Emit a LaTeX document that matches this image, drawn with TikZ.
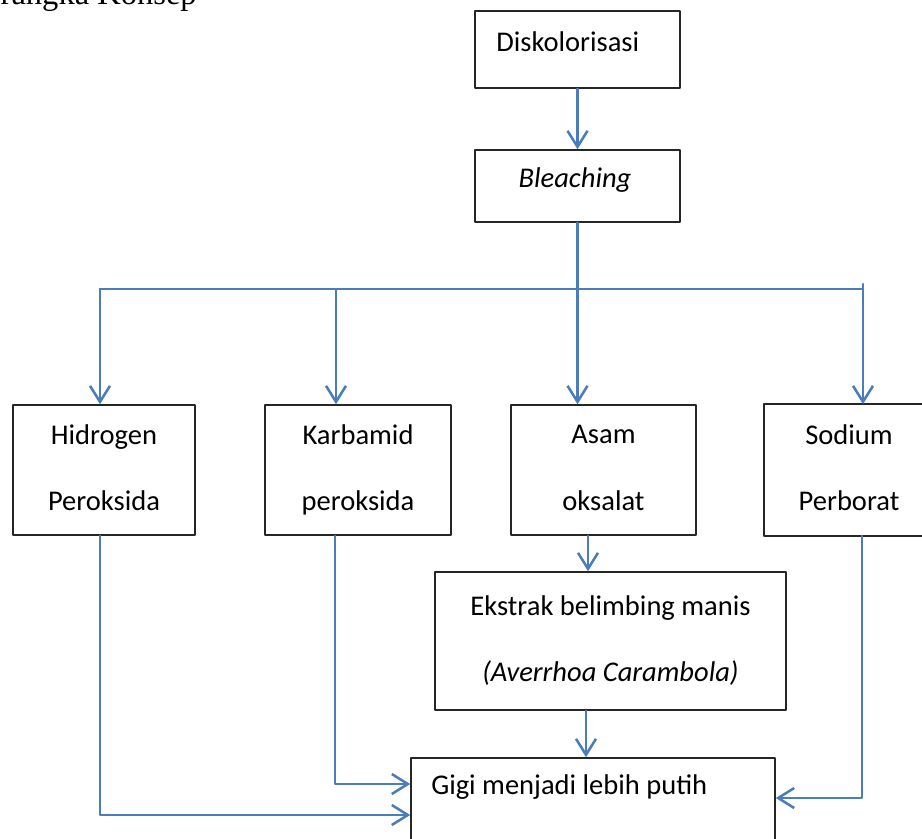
\documentclass[tikz,border=0pt]{standalone}
\usepackage{fontspec}
\setmainfont{Carlito}
\newfontfamily\judulfont{Liberation Serif}
\usetikzlibrary{arrows.meta, positioning}
\definecolor{garisbiru}{RGB}{74,126,187}
\newcommand\tegak{\vphantom{Hgp}}

\begin{document}
\begin{tikzpicture}[x=0.75pt, y=-0.75pt, >={Straight Barb[length=12pt, width=15pt]}, line join=round, line cap=round]
    \tikzset{
        kotak/.style={draw=black!85, line width=1.2pt, inner sep=0pt, align=center,
            font=\fontsize{21.4}{50}\selectfont},
        kotakbuka/.style={kotak, draw=none},
        tepi/.style={draw=black!85, line width=1.2pt},
        teks/.style={inner sep=0pt, font=\fontsize{21.4}{50}\selectfont},
        garis/.style={draw=garisbiru, line width=1.9pt}
    }
    \clip (0,0) rectangle (922,839);

    % judul
    \node[anchor=base east, inner sep=0pt, font=\judulfont\fontsize{24.4}{28}\selectfont] (judul) at (197,4) {Kerangka Konsep};

    % kotak
    \node[kotak, minimum width=153.75pt, minimum height=57.75pt] (disk) at (577.5,49.5) {};
    \node[teks, anchor=west] (diskT) at (496,42) {Diskolorisasi};
    \node[kotak, minimum width=153.75pt, minimum height=54pt] (bleach) at (577.5,186) {};
    \node[teks] (bleachT) at (575,180) {\textit{Bleaching}\tegak};
    \node[kotak, minimum width=136.5pt, minimum height=97.5pt] (hidro) at (104,470) {Hidrogen\tegak\\Peroksida\tegak};
    \node[kotak, minimum width=139.5pt, minimum height=97.5pt] (karb) at (358,470) {Karbamid\tegak\\peroksida\tegak};
    \node[kotak, minimum width=138.75pt, minimum height=97.5pt] (asam) at (603.5,470) {Asam\tegak\\oksalat\tegak};
    \node[kotakbuka, minimum width=126pt, minimum height=97.5pt] (sod) at (849,470) {Sodium\tegak\\Perborat\tegak};
    \draw[tepi] (sod.north east) -- (sod.north west) -- (sod.south west) -- (sod.south east);
    \node[kotak, minimum width=263.25pt, minimum height=103.5pt] (ekstrak) at (610.5,641) {Ekstrak belimbing manis\tegak\\\textit{(Averrhoa Carambola)}\tegak};
    \node[kotak, minimum width=273pt, minimum height=91.5pt] (gigi) at (593,819) {};
    \node[teks, anchor=west] (gigiT) at (431,787) {Gigi menjadi lebih putih};

    % cabang
    \coordinate (cabH) at (100,289);
    \coordinate (cabK) at (336,289);
    \coordinate (cabS) at (863,289);
    \coordinate (ujungS) at (863,284);

    \draw[garis, ->] (disk) -- (bleach);
    \draw[garis, ->] (bleach.south) -- (bleach.south |- asam.north);
    \draw[garis] (cabH) -- (cabS) -- (ujungS);
    \draw[garis, ->] (cabH) -- (cabH |- hidro.north);
    \draw[garis, ->] (cabK) -- (cabK |- karb.north);
    \draw[garis, ->] (cabS) -- (cabS |- sod.north);

    \draw[garis, ->] (asam.south -| 588,0) -- (ekstrak.north -| 588,0);
    \draw[garis, ->] (ekstrak.south -| 586,0) -- (gigi.north -| 586,0);

    \draw[garis, ->] (cabH |- hidro.south) |- (gigi.west |- 0,815);
    \draw[garis, ->] (335,0 |- karb.south) |- (gigi.west |- 0,784);
    \draw[garis, ->] (862,0 |- sod.south) |- (gigi.east |- 0,798);
\end{tikzpicture}
\end{document}
